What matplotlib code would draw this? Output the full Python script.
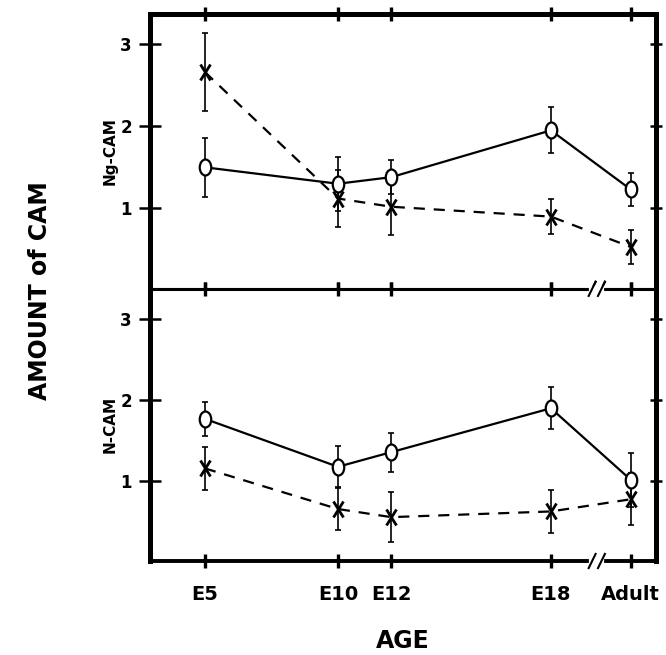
import matplotlib
matplotlib.use("Agg")
import matplotlib.pyplot as plt
from matplotlib.markers import MarkerStyle
from matplotlib.transforms import Affine2D, blended_transform_factory
import numpy as np

ages = ["E5", "E10", "E12", "E18", "Adult"]
age_pos = [5, 10, 12, 18, 21]

# Ng-CAM (top panel)
ng_o = [1.50, 1.30, 1.38, 1.95, 1.23]
ng_o_err = [0.36, 0.33, 0.21, 0.28, 0.20]
ng_x = [2.66, 1.12, 1.02, 0.90, 0.53]
ng_x_err = [0.47, 0.35, 0.34, 0.21, 0.21]

# N-CAM (bottom panel)
n_o = [1.77, 1.18, 1.36, 1.90, 1.02]
n_o_err = [0.21, 0.25, 0.24, 0.26, 0.33]
n_x = [1.16, 0.66, 0.56, 0.63, 0.78]
n_x_err = [0.26, 0.26, 0.31, 0.27, 0.32]

yticks = [1, 2, 3]

plt.rcParams['font.family'] = ['DejaVu Sans']
plt.rcParams['font.weight'] = 'bold'

fig = plt.figure(figsize=(6.66, 6.55), dpi=100)
ax1 = fig.add_axes([0.225, 0.559, 0.760, 0.420])
ax2 = fig.add_axes([0.225, 0.1435, 0.760, 0.4155], sharex=ax1)

o_marker = MarkerStyle('o', fillstyle='full', transform=Affine2D().scale(0.72, 1.0))
x_marker = MarkerStyle('x', transform=Affine2D().scale(0.75, 1.1))

def draw(ax, yo, yo_err, yx, yx_err, label, breaks):
    ax.errorbar(age_pos, yx, yerr=yx_err, fmt='none', ecolor='black',
                elinewidth=1.2, capsize=2.5, capthick=1.2, zorder=3)
    ax.plot(age_pos, yx, linestyle=(0, (5, 4)), color='black', lw=1.6,
            marker=x_marker, markersize=10, markeredgewidth=2.0, zorder=4)
    ax.errorbar(age_pos, yo, yerr=yo_err, fmt='none', ecolor='black',
                elinewidth=1.2, capsize=2.5, capthick=1.2, zorder=3)
    ax.plot(age_pos, yo, linestyle='-', color='black', lw=1.6,
            marker=o_marker, markersize=11.5, markerfacecolor='white',
            markeredgecolor='black', markeredgewidth=1.6, zorder=5)
    ax.set_ylim(0.02, 3.37)
    ax.set_xlim(2.93, 21.95)
    ax.set_yticks(yticks)
    ax.set_yticklabels([str(t) for t in yticks], fontsize=12, fontweight='bold')
    ax.set_xticks(age_pos)
    for s in ax.spines.values():
        s.set_linewidth(3.6)
    ax.tick_params(axis='y', direction='inout', length=16, width=1.8,
                   left=True, right=False, labelleft=True, pad=5)
    ax.tick_params(axis='x', direction='inout', length=10, width=2.4,
                   top=True, bottom=True)
    sec = ax.secondary_yaxis('right')
    sec.set_yticks(yticks)
    sec.set_yticklabels([])
    sec.tick_params(direction='inout', length=8, width=1.8)
    sec.spines['right'].set_visible(False)
    ax.set_ylabel(label, fontsize=11, fontweight='bold')
    ax.yaxis.set_label_coords(-0.063, 0.5)
    # axis breaks
    tr = blended_transform_factory(ax.transData, ax.transAxes)
    for yb in breaks:
        ax.plot([19.55, 19.9], [yb, yb], color='white', lw=4.5,
                transform=tr, clip_on=False, zorder=6)
        for xb in (19.55, 19.9):
            ax.plot([xb - 0.13, xb + 0.13], [yb - 0.026, yb + 0.026],
                    color='black', lw=1.5, transform=tr, clip_on=False, zorder=7)

draw(ax1, ng_o, ng_o_err, ng_x, ng_x_err, "Ng-CAM", breaks=(0.0,))
draw(ax2, n_o, n_o_err, n_x, n_x_err, "N-CAM", breaks=(0.0, 1.0))

ax1.spines['bottom'].set_linewidth(2.2)
ax2.spines['top'].set_linewidth(2.2)
ax2.spines['bottom'].set_linewidth(2.8)

plt.setp(ax1.get_xticklabels(), visible=False)
ax2.set_xticklabels(ages, fontsize=14, fontweight='bold')
ax2.tick_params(axis='x', pad=12)

fig.text(0.06, 0.557, "AMOUNT of CAM", rotation=90, ha='center', va='center',
         fontsize=17, fontweight='bold')
fig.text(0.605, 0.003, "AGE", ha='center', va='bottom', fontsize=17, fontweight='bold')

fig.savefig("out.png", dpi=100)
